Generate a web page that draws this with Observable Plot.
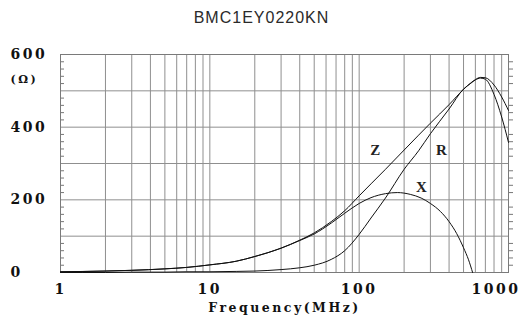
<!DOCTYPE html>
<html>
<head>
<meta charset="utf-8">
<script src="https://cdn.jsdelivr.net/npm/d3@7"></script>
<script src="https://cdn.jsdelivr.net/npm/@observablehq/plot@0.6"></script>
<style>
  html, body { margin: 0; padding: 0; background: #fff; }
  #title { position: relative; width: 529px; height: 30px; }
  #title span { position: absolute; left: 0; width: 523px; top: 10px; line-height: 16px; text-align: center;
    font-family: "Liberation Sans", Arial, sans-serif; font-size: 16px; letter-spacing: 1px; color: #2a2a2a; }
</style>
</head>
<body>
<div id="title"><span>BMC1EY0220KN</span></div>
<div id="chart"></div>
<script>
// Frequency (MHz) and impedance values (Ω)
const freqs = [1, 2, 3, 5, 7, 10, 15, 20, 30, 40, 50, 65, 80, 100, 120, 150, 200, 250, 300, 400, 500, 560, 600, 650, 700, 800, 900, 1000];
const zOhm  = [2, 4, 6, 10, 14, 21, 31, 44, 67, 89, 109, 140, 170, 211, 244, 284, 337, 378, 411, 462, 504, 522, 531, 537, 536, 516, 483, 446];
const rOhm  = [0, 0, 1, 1, 2, 2, 3, 4, 8, 13, 20, 36, 60, 105, 150, 205, 284, 335, 382, 450, 505, 521, 530, 535, 532, 490, 428, 358];
const xFreqs = [1, 2, 3, 5, 7, 10, 15, 20, 30, 40, 50, 65, 80, 100, 120, 150, 180, 220, 260, 300, 350, 400, 450, 500, 540, 575];
const xOhm   = [2, 4, 6, 10, 14, 21, 31, 44, 67, 88, 106, 136, 163, 190, 206, 217, 220, 215, 205, 190, 168, 140, 107, 68, 35, 0];

const curveNames = ["Z", "R", "X"];
const labelFreq = [128, 355, 261];
const labelOhm  = [336, 336, 234];

const yTickLabels = [0, 200, 400, 600];
const yGrid = [0, 100, 200, 300, 400, 500, 600];
const yMinor = d3.range(0, 601, 20).filter(v => v % 100 !== 0);
const xTickLabels = [1, 10, 100, 1000];
const xGrid = [1, 10, 100].flatMap(d => d3.range(1, 10).map(k => k * d)).concat([1000]);

const rows = [
  ...freqs.map((f, i) => ({name: "Z", f, v: zOhm[i]})),
  ...freqs.map((f, i) => ({name: "R", f, v: rOhm[i]})),
  ...xFreqs.map((f, i) => ({name: "X", f, v: xOhm[i]}))
];
const labels = curveNames.map((n, i) => ({n, f: labelFreq[i], v: labelOhm[i]}));

const tickFont = "DejaVu Serif";
const gridColor = "#8f8f8f";

const svg = Plot.plot({
  width: 529,
  height: 292,
  marginLeft: 60,
  marginRight: 21,
  marginTop: 24,
  marginBottom: 50,
  style: {background: "white", overflow: "visible"},
  x: {type: "log", domain: [1, 1000], axis: null},
  y: {domain: [0, 600], axis: null},
  marks: [
    Plot.gridX(xGrid, {stroke: gridColor, strokeOpacity: 1, strokeWidth: 1}),
    Plot.gridY(yGrid, {stroke: gridColor, strokeOpacity: 1, strokeWidth: 1}),
    Plot.axisY({anchor: "left", ticks: yMinor, tickSize: -4, tickFormat: () => "", label: null, stroke: "#777"}),
    Plot.axisY({anchor: "right", ticks: yMinor, tickSize: 4, tickFormat: () => "", label: null, stroke: "#777"}),
    Plot.frame({stroke: "#7a7a7a"}),
    Plot.line(rows, {x: "f", y: "v", z: "name", curve: "monotone-x", stroke: "#111", strokeWidth: 1}),
    Plot.text(labels, {x: "f", y: "v", text: "n", fontFamily: "Liberation Serif", fontWeight: "bold", fontSize: 15, fill: "#222"}),
    Plot.text(yTickLabels, {y: d => d, text: d => String(d), frameAnchor: "left", dx: -50, textAnchor: "start",
      fontFamily: tickFont, fontWeight: "bold", fontSize: 14, fill: "#111"}),
    Plot.text(["(Ω)"], {text: d => d, frameAnchor: "top-left", dx: -50, dy: 21, textAnchor: "start",
      fontFamily: tickFont, fontWeight: "bold", fontSize: 11, fill: "#111"}),
    Plot.text(xTickLabels.slice(0, 3), {x: d => d, text: d => String(d), frameAnchor: "bottom", dy: 21,
      fontFamily: tickFont, fontWeight: "bold", fontSize: 14, fill: "#111"}),
    Plot.text(xTickLabels.slice(3), {x: d => d, text: d => String(d), frameAnchor: "bottom", dy: 21, dx: 12, textAnchor: "end",
      fontFamily: tickFont, fontWeight: "bold", fontSize: 14, fill: "#111"}),
    Plot.text(["Frequency(MHz)"], {text: d => d, frameAnchor: "bottom", dy: 39,
      fontFamily: tickFont, fontWeight: "bold", fontSize: 12.5, fill: "#111"})
  ]
});
d3.select(svg).selectAll(`g[font-family="${tickFont}"]`).attr("letter-spacing", "2.5px");
document.getElementById("chart").appendChild(svg);
</script>
</body>
</html>
